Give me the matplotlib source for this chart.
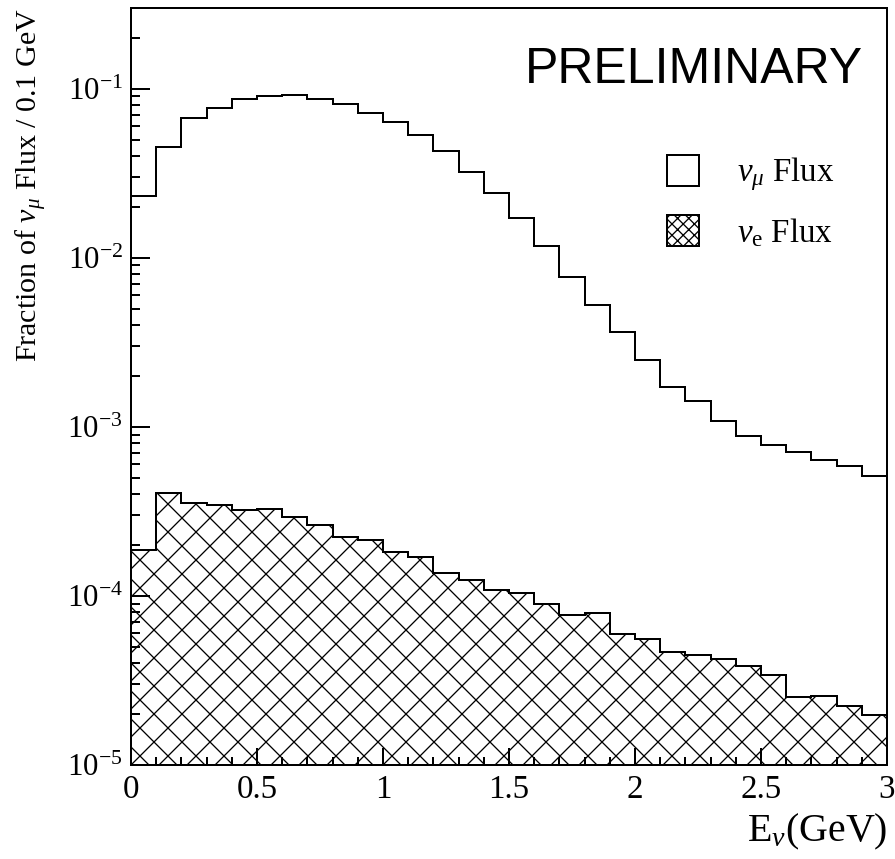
import matplotlib
matplotlib.use('Agg')
import matplotlib.pyplot as plt
from matplotlib.patches import Patch
from matplotlib.ticker import LogLocator, MultipleLocator, FixedLocator
import numpy as np

# big dpi so the hatch tile (one inch) gets the wide spacing of the original
DPI = 168


def pt(px):
    return px * 72.0 / DPI


edges = np.round(np.arange(0, 3.01, 0.1), 2)

numu_flux = [0.0231, 0.0452, 0.0671, 0.0772, 0.0869, 0.0905, 0.0913, 0.0873, 0.0808, 0.0714,
             0.0632, 0.0535, 0.0426, 0.0323, 0.0240, 0.0171, 0.01167, 0.00774, 0.00527, 0.00366,
             0.00249, 0.00173, 0.00142, 0.00109, 0.000885, 0.000782, 0.000711, 0.000638, 0.000590, 0.000513]

nue_flux = [1.87e-4, 4.08e-4, 3.53e-4, 3.45e-4, 3.23e-4, 3.26e-4, 2.92e-4, 2.63e-4, 2.24e-4, 2.14e-4,
            1.83e-4, 1.69e-4, 1.37e-4, 1.25e-4, 1.09e-4, 1.04e-4, 8.93e-5, 7.66e-5, 7.97e-5, 5.96e-5,
            5.57e-5, 4.67e-5, 4.48e-5, 4.26e-5, 3.85e-5, 3.41e-5, 2.52e-5, 2.56e-5, 2.24e-5, 1.98e-5]

x_ticks = [0, 0.5, 1, 1.5, 2, 2.5, 3]
x_ticklabels = ["0", "0.5", "1", "1.5", "2", "2.5", "3"]
y_min, y_max = 1e-5, 0.3

plt.rcParams['font.family'] = ['Liberation Serif', 'DejaVu Serif']
plt.rcParams['mathtext.fontset'] = 'custom'
plt.rcParams['mathtext.rm'] = 'Liberation Serif'
plt.rcParams['mathtext.it'] = 'Liberation Serif:italic'
plt.rcParams['hatch.linewidth'] = pt(1.3)

fig = plt.figure(figsize=(895.0 / DPI, 859.0 / DPI), dpi=DPI)
ax = fig.add_axes([131 / 895.0, 94 / 859.0, 756 / 895.0, 757 / 859.0])

# nu_e: hatched fill, then outline
ax.stairs(nue_flux, edges, baseline=y_min, fill=True, facecolor='white',
          edgecolor='black', hatch='xx', linewidth=0)
ax.stairs(nue_flux, edges, baseline=None, color='black', linewidth=pt(2))
ax.stairs(numu_flux, edges, baseline=None, color='black', linewidth=pt(2))

ax.set_yscale('log')
ax.set_xlim(0, 3)
ax.set_ylim(y_min, y_max)

ax.xaxis.set_major_locator(FixedLocator(x_ticks))
ax.set_xticklabels(x_ticklabels)
ax.xaxis.set_minor_locator(MultipleLocator(0.1))
ax.yaxis.set_major_locator(LogLocator(base=10, numticks=10))
ax.yaxis.set_minor_locator(LogLocator(base=10, subs=np.arange(2, 10), numticks=20))
ax.yaxis.set_major_formatter(matplotlib.ticker.FuncFormatter(
    lambda v, p: r"$\mathregular{10^{%d}}$" % int(round(np.log10(v)))))

ax.tick_params(axis='both', which='both', direction='in', top=False, right=False,
               width=pt(2))
ax.tick_params(axis='y', which='major', length=pt(19), pad=pt(8), labelsize=pt(31))
ax.tick_params(axis='y', which='minor', length=pt(9))
ax.tick_params(axis='x', which='major', length=pt(17), pad=pt(10), labelsize=pt(33))
ax.tick_params(axis='x', which='minor', length=pt(8))
for s in ax.spines.values():
    s.set_linewidth(pt(2))

ax.set_ylabel(r"Fraction of $\nu_{\mu}$ Flux / 0.1 GeV", fontsize=pt(30), loc='top')
ax.yaxis.set_label_coords(-0.108, 1.0)
ax.set_xlabel(r"E$_{\nu}$(GeV)", fontsize=pt(40), loc='right')
ax.xaxis.set_label_coords(1.0, -0.062)

ax.text(0.968, 0.918, "PRELIMINARY", transform=ax.transAxes, ha='right', va='center',
        fontsize=pt(50), family='Liberation Sans')

handles = [Patch(facecolor='white', edgecolor='black', linewidth=pt(2)),
           Patch(facecolor='white', edgecolor='black', linewidth=pt(2), hatch='xxxxx')]
ax.legend(handles, [r"$\nu_{\mu}$ Flux", r"$\nu_{\mathrm{e}}$ Flux"], loc='upper left',
          bbox_to_anchor=(0.709, 0.806), frameon=False, fontsize=pt(33),
          handlelength=0.97, handleheight=1.06, handletextpad=1.15, labelspacing=0.66,
          borderpad=0, borderaxespad=0)

fig.savefig("out.png", dpi=DPI)
